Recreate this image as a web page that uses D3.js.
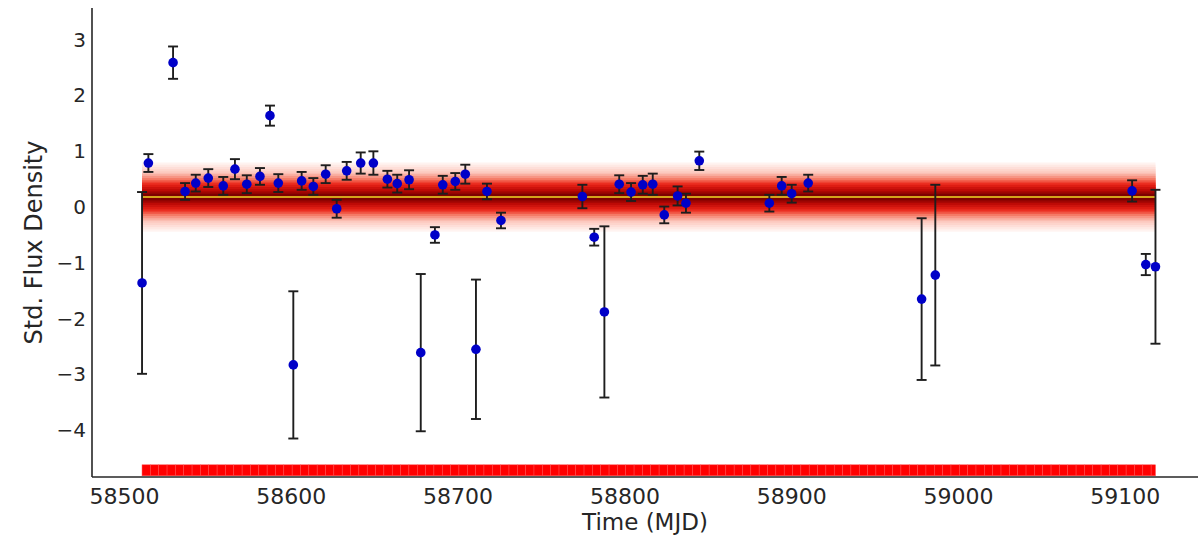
<!DOCTYPE html>
<html>
<head>
<meta charset="utf-8">
<script src="https://cdn.jsdelivr.net/npm/d3@7"></script>
<style>
  body { margin: 0; background: #fff; }
  svg { display: block; }
  text { font-family: "DejaVu Sans", sans-serif; fill: #262626; }
</style>
</head>
<body>
<svg id="chart" width="1201" height="540"></svg>
<script>
// Observation epochs (MJD), standardised flux density and 1-sigma errors
const mjd = [58510.8, 58514.6, 58529.4, 58536.6, 58543.0, 58550.5, 58559.5, 58566.5, 58573.6, 58581.5,
             58587.5, 58592.5, 58601.5, 58606.5, 58613.5, 58620.9, 58627.5, 58633.5, 58641.9, 58649.5,
             58657.9, 58663.8, 58670.9, 58677.9, 58686.4, 58691.1, 58698.6, 58704.6, 58711.0, 58717.6,
             58726.0, 58774.8, 58781.9, 58788.0, 58796.9, 58804.0, 58811.0, 58817.0, 58823.9, 58831.9,
             58836.9, 58844.9, 58886.9, 58894.3, 58900.3, 58910.2, 58978.2, 58986.4, 59104.4, 59112.6,
             59118.4];
const flux = [-1.36, 0.79, 2.59, 0.28, 0.43, 0.52, 0.38, 0.68, 0.41, 0.55,
              1.64, 0.43, -2.83, 0.47, 0.37, 0.59, -0.03, 0.65, 0.79, 0.79,
              0.50, 0.42, 0.49, -2.61, -0.50, 0.40, 0.46, 0.59, -2.55, 0.28,
              -0.24, 0.19, -0.54, -1.88, 0.41, 0.27, 0.40, 0.41, -0.14, 0.20,
              0.07, 0.83, 0.07, 0.38, 0.24, 0.43, -1.65, -1.22, 0.29, -1.03,
              -1.07];
const fluxErr = [1.63, 0.16, 0.29, 0.15, 0.15, 0.16, 0.16, 0.18, 0.16, 0.15,
                 0.18, 0.16, 1.32, 0.16, 0.15, 0.16, 0.16, 0.16, 0.19, 0.21,
                 0.15, 0.16, 0.17, 1.41, 0.14, 0.16, 0.15, 0.17, 1.25, 0.14,
                 0.14, 0.21, 0.15, 1.535, 0.16, 0.16, 0.16, 0.19, 0.15, 0.17,
                 0.17, 0.165, 0.15, 0.16, 0.16, 0.15, 1.45, 1.62, 0.19, 0.19,
                 1.38];

// Constant-flux model: posterior mean and credible-interval half widths
const modelMean = 0.18;
const modelHalfWidths = [0.62, 0.58, 0.54, 0.50, 0.46, 0.42, 0.38, 0.34, 0.30, 0.26,
                         0.22, 0.18, 0.14, 0.10, 0.06];

// Time coverage strip along the bottom
const coverageStart = 58510.8;
const coverageEnd = 59118.4;
const coverageStep = 5;
const coverageLevel = -4.72;

const xTicks = [58500, 58600, 58700, 58800, 58900, 59000, 59100];
const yTicks = [-4, -3, -2, -1, 0, 1, 2, 3];

const svg = d3.select("#chart");
const plotLeft = 92, plotRight = 1198, plotTop = 8, plotBottom = 477;

const x = d3.scaleLinear().domain([58480.8, 59143.9]).range([plotLeft, plotRight]);
const y = d3.scaleLinear().domain([-4.84, 3.57]).range([plotBottom, plotTop]);

// Shade by interval width: pale pink outside, deep red at the core
const bandColor = d3.scaleLinear()
  .domain([0.62, 0.46, 0.34, 0.25, 0.14, 0.06])
  .range(["#fff3f0", "#fcc9bf", "#f47a66", "#ea2418", "#bd0a06", "#7e0000"])
  .interpolate(d3.interpolateRgb);

const x0 = x(mjd[0]), x1 = x(mjd[mjd.length - 1]);

// Model band, drawn widest (palest) to narrowest (darkest)
svg.append("g").selectAll("rect")
  .data(modelHalfWidths)
  .join("rect")
  .attr("x", x0)
  .attr("width", x1 - x0)
  .attr("y", d => y(modelMean + d))
  .attr("height", d => y(modelMean - d) - y(modelMean + d))
  .attr("fill", d => bandColor(d));

svg.append("line")
  .attr("x1", x0).attr("x2", x1)
  .attr("y1", y(modelMean)).attr("y2", y(modelMean))
  .attr("stroke", "#d4a21c").attr("stroke-width", 2);

// Coverage strip
const cov = d3.range(coverageStart, coverageEnd, coverageStep);
svg.append("g").selectAll("rect")
  .data(cov)
  .join("rect")
  .attr("x", d => x(d))
  .attr("width", d => x(Math.min(d + coverageStep, coverageEnd)) - x(d))
  .attr("y", y(coverageLevel) - 5.5)
  .attr("height", 11)
  .attr("fill", "#ff0000")
  .attr("stroke", "#ff4a4a")
  .attr("stroke-width", 0.5);

// Axes (left and bottom spines only)
svg.append("line").attr("x1", plotLeft).attr("x2", plotLeft).attr("y1", plotTop).attr("y2", plotBottom)
  .attr("stroke", "#262626").attr("stroke-width", 1.6);
svg.append("line").attr("x1", plotLeft).attr("x2", plotRight).attr("y1", plotBottom).attr("y2", plotBottom)
  .attr("stroke", "#262626").attr("stroke-width", 1.6);

const xAxis = d3.axisBottom(x).tickValues(xTicks).tickSize(0).tickPadding(8).tickFormat(d3.format("d"));
const gx = svg.append("g").attr("transform", `translate(0,${plotBottom})`).call(xAxis);
gx.select(".domain").remove();
gx.selectAll("text").attr("font-size", 22).attr("fill", "#262626").attr("dy", "0.85em");

const yAxis = d3.axisLeft(y).tickValues(yTicks).tickSize(0).tickPadding(6)
  .tickFormat(d => d < 0 ? "\u2212" + Math.abs(d) : String(d));
const gy = svg.append("g").attr("transform", `translate(${plotLeft},0)`).call(yAxis);
gy.select(".domain").remove();
gy.selectAll("text").attr("font-size", 20).attr("fill", "#262626");

svg.append("text")
  .attr("x", (plotLeft + plotRight) / 2).attr("y", 530)
  .attr("text-anchor", "middle").attr("font-size", 23)
  .text("Time (MJD)");

svg.append("text")
  .attr("transform", `translate(42,${(plotTop + plotBottom) / 2}) rotate(-90)`)
  .attr("text-anchor", "middle").attr("font-size", 24)
  .text("Std. Flux Density");

// Error bars
const pts = mjd.map((t, i) => ({ t, f: flux[i], e: fluxErr[i] }));
const eb = svg.append("g").attr("stroke", "#1e1e1e").attr("stroke-width", 1.9);
eb.selectAll("line.v").data(pts).join("line").attr("class", "v")
  .attr("x1", d => x(d.t)).attr("x2", d => x(d.t))
  .attr("y1", d => y(d.f + d.e)).attr("y2", d => y(d.f - d.e));
eb.selectAll("line.cap-hi").data(pts).join("line").attr("class", "cap-hi")
  .attr("x1", d => x(d.t) - 5).attr("x2", d => x(d.t) + 5)
  .attr("y1", d => y(d.f + d.e)).attr("y2", d => y(d.f + d.e));
eb.selectAll("line.cap-lo").data(pts).join("line").attr("class", "cap-lo")
  .attr("x1", d => x(d.t) - 5).attr("x2", d => x(d.t) + 5)
  .attr("y1", d => y(d.f - d.e)).attr("y2", d => y(d.f - d.e));

// Measurements
svg.append("g").selectAll("circle").data(pts).join("circle")
  .attr("cx", d => x(d.t)).attr("cy", d => y(d.f))
  .attr("r", 4.8)
  .attr("fill", "#0000c8");
</script>
</body>
</html>
